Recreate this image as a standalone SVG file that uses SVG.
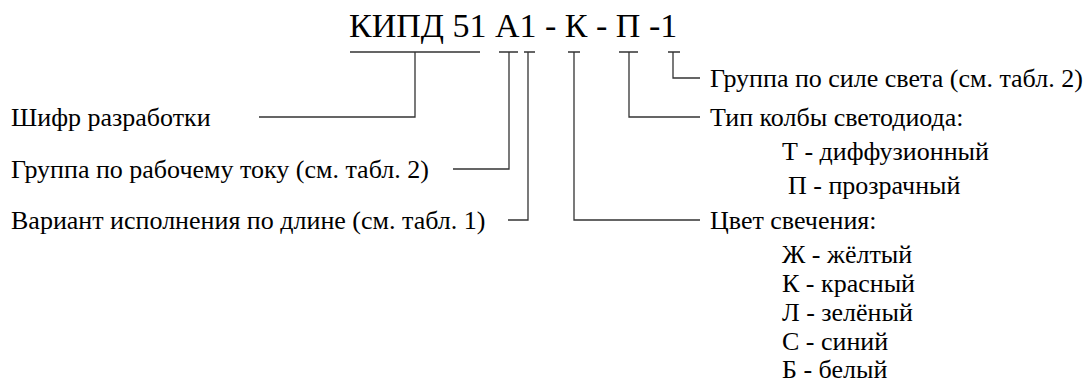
<svg xmlns="http://www.w3.org/2000/svg" width="1086" height="385" viewBox="0 0 1086 385">
<style>
  text { font-family: "Liberation Serif", "Times New Roman", serif; fill: #000; }
  .title { font-size: 34px; }
  .lbl { font-size: 26px; }
  .conn path { fill: none; stroke: #333; stroke-width: 1.3; }
</style>
<rect width="1086" height="385" fill="#fff"/>
<g id="title"><text class="title" x="349" y="37">КИПД 51 А1 - К - П -1</text></g>
<g class="conn" id="connectors">
  <path d="M350,52 H480 M415,52 V117 H259"/>
  <path d="M499,52 H518 M509,52 V169 H453"/>
  <path d="M524,52 H535 M528,52 V220 H508"/>
  <path d="M568,52 H580 M574,52 V220 H700"/>
  <path d="M619,52 H638 M629,52 V117 H700"/>
  <path d="M668,52 H680 M673,52 V78 H700"/>
</g>
<g id="shifr"><text class="lbl" x="11" y="126">Шифр разработки</text></g>
<g id="gruppa-tok"><text class="lbl" x="11" y="178">Группа по рабочему току (см. табл. 2)</text></g>
<g id="variant"><text class="lbl" x="11" y="229">Вариант исполнения по длине (см. табл. 1)</text></g>
<g id="gruppa-svet"><text class="lbl" x="710" y="87">Группа по силе света (см. табл. 2)</text></g>
<g id="tip-kolby">
  <text class="lbl" x="710" y="126">Тип колбы светодиода:</text>
  <text class="lbl" x="782" y="160">Т - диффузионный</text>
  <text class="lbl" x="788" y="194">П - прозрачный</text>
</g>
<g id="cvet">
  <text class="lbl" x="710" y="229">Цвет свечения:</text>
  <text class="lbl" x="782" y="263">Ж - жёлтый</text>
  <text class="lbl" x="782" y="292">К - красный</text>
  <text class="lbl" x="782" y="321">Л - зелёный</text>
  <text class="lbl" x="782" y="350">С - синий</text>
  <text class="lbl" x="782" y="378">Б - белый</text>
</g>
</svg>
